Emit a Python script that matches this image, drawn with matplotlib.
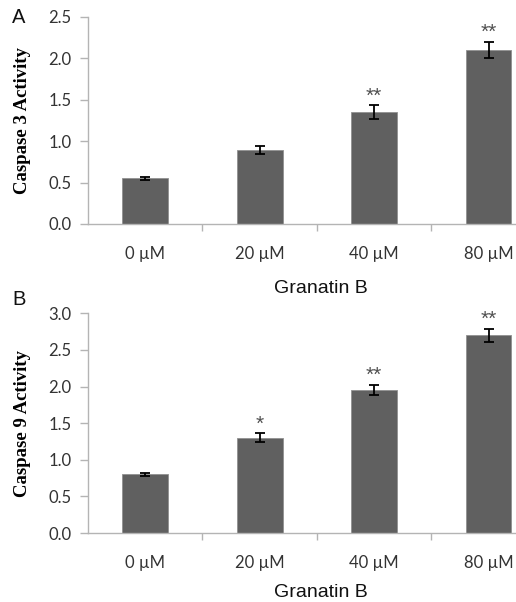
import matplotlib
matplotlib.use("Agg")
import matplotlib.pyplot as plt
import numpy as np

# Data
doses = ["0 \u00b5M", "20 \u00b5M", "40 \u00b5M", "80 \u00b5M"]
casp3 = [0.55, 0.89, 1.35, 2.10]
casp3_err = [0.02, 0.05, 0.08, 0.10]
casp3_sig = ["", "", "**", "**"]
casp9 = [0.80, 1.30, 1.95, 2.70]
casp9_err = [0.02, 0.06, 0.07, 0.09]
casp9_sig = ["", "*", "**", "**"]

bar_color = "#606060"
axis_color = "#b4b4b4"
tick_font = "Lato"
label_font = "Liberation Sans"

fig = plt.figure(figsize=(5.16, 6.02), dpi=100)


def panel(rect, vals, errs, sig, ylim, ylabel, letter, letter_y, xlabel_y):
    ax = fig.add_axes(rect)
    x = np.arange(len(doses))
    ax.bar(x, vals, width=0.4, color=bar_color, edgecolor="#909090", linewidth=0.6, zorder=2)
    ax.errorbar(x, vals, yerr=errs, fmt="none", ecolor="black", elinewidth=1.3,
                capsize=3.5, capthick=1.3, zorder=3)
    for xi, v, e, s in zip(x, vals, errs, sig):
        if s:
            ax.text(xi, v + e, s, ha="center", va="bottom",
                    fontsize=15, color="#505050", family=label_font)
    ax.set_xlim(-0.5, 3.24)
    ax.set_ylim(*ylim)
    yt = np.arange(0, ylim[1] + 0.01, 0.5)
    ax.set_yticks(yt)
    ax.set_yticklabels([f"{t:.1f}" for t in yt], family=tick_font, fontsize=12, color="#333333")
    ax.set_xticks(x)
    ax.set_xticklabels(doses, family=tick_font, fontsize=12, color="#333333")
    ax.tick_params(axis="x", length=0, pad=16)
    ax.set_xticks(np.arange(0.5, 3.0, 1), minor=True)
    ax.tick_params(axis="x", which="minor", length=5, color=axis_color, width=1)
    ax.tick_params(axis="y", length=6, color=axis_color, width=1, pad=6)
    for side in ["top", "right"]:
        ax.spines[side].set_visible(False)
    for side in ["left", "bottom"]:
        ax.spines[side].set_color(axis_color)
        ax.spines[side].set_linewidth(1)
    ax.set_ylabel(ylabel, family="Liberation Serif", fontweight="bold", fontsize=13.5)
    ax.yaxis.set_label_coords(-0.133, 0.5)
    fig.text(321 / 516, xlabel_y, "Granatin B", ha="center", va="baseline",
             family=label_font, fontsize=14, color="#111111")
    fig.text(0.024, letter_y, letter, family=label_font, fontsize=14.5,
             ha="left", va="top", color="#111111")
    return ax


panel([0.1705, 0.628, 0.8295, 0.344], casp3, casp3_err, casp3_sig, (0, 2.5),
      "Caspase 3 Activity", "A", 0.987, 0.5133)
panel([0.1705, 0.1146, 0.8295, 0.365], casp9, casp9_err, casp9_sig, (0, 3.0),
      "Caspase 9 Activity", "B", 0.519, 0.0083)

fig.savefig("out.png", dpi=100)
